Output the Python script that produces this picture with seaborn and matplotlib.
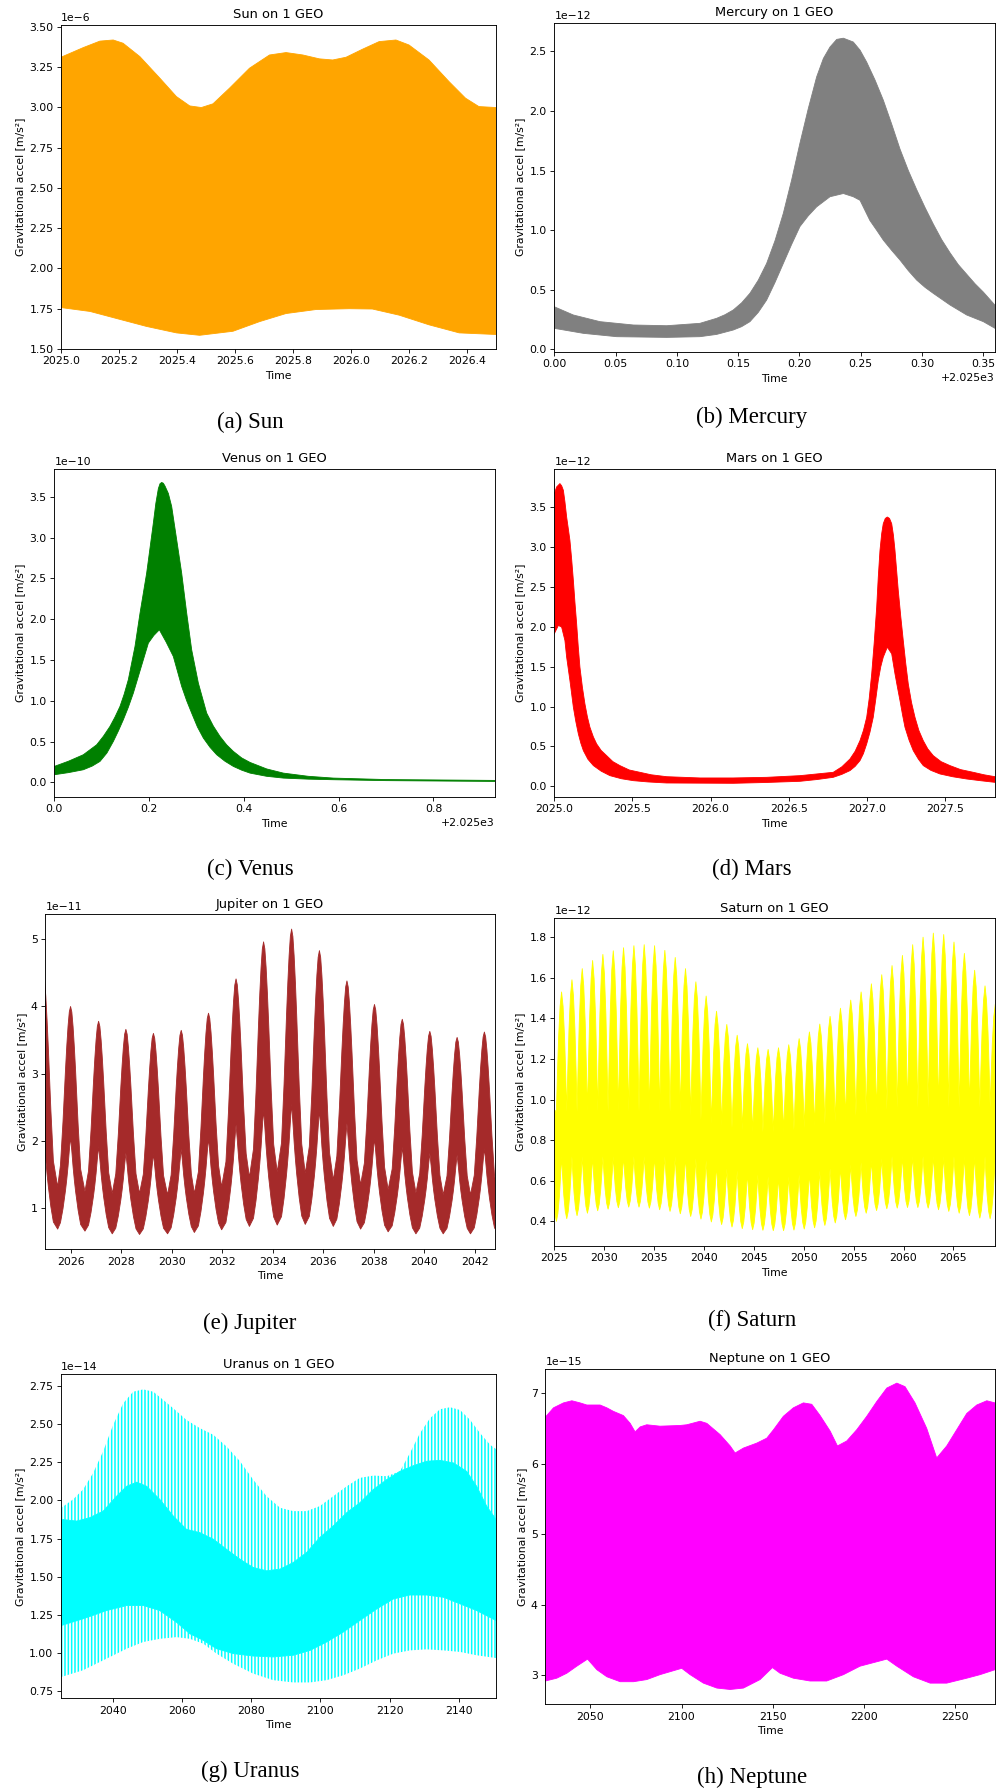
import numpy as np
import matplotlib
matplotlib.use("Agg")
import matplotlib.pyplot as plt
import seaborn as sns

# ---------------------------------------------------------------------------
# Gravitational acceleration of each body on a GEO satellite.
# Each series is the envelope (upper / lower edge) of the daily oscillation,
# values in units of the panel's axis multiplier.
# ---------------------------------------------------------------------------
bodies = ["Sun", "Mercury", "Venus", "Mars", "Jupiter", "Saturn", "Uranus", "Neptune"]
captions = ["(a) Sun", "(b) Mercury", "(c) Venus", "(d) Mars",
            "(e) Jupiter", "(f) Saturn", "(g) Uranus", "(h) Neptune"]
colors = ["orange", "gray", "green", "red", "brown", "yellow", "cyan", "magenta"]
scales = [1e-6, 1e-12, 1e-10, 1e-12, 1e-11, 1e-12, 1e-14, 1e-15]

# Sun
sun_upper_years = [2025.0, 2025.077, 2025.134, 2025.18, 2025.214, 2025.272, 2025.341, 2025.398,
                   2025.444, 2025.484, 2025.524, 2025.581, 2025.65, 2025.719, 2025.776, 2025.834,
                   2025.891, 2025.937, 2025.983, 2026.04, 2026.097, 2026.155, 2026.2, 2026.269,
                   2026.338, 2026.395, 2026.441, 2026.5]
sun_upper = [3.31, 3.37, 3.41, 3.417, 3.397, 3.314, 3.18, 3.066, 3.008, 2.998, 3.021, 3.118,
             3.242, 3.324, 3.339, 3.324, 3.30, 3.293, 3.31, 3.36, 3.407, 3.417, 3.386, 3.293,
             3.159, 3.056, 3.004, 2.998]
sun_lower_years = [2025.0, 2025.1, 2025.19, 2025.295, 2025.398, 2025.478, 2025.593, 2025.685,
                   2025.776, 2025.88, 2025.994, 2026.074, 2026.166, 2026.269, 2026.373, 2026.5]
sun_lower = [1.757, 1.733, 1.69, 1.64, 1.60, 1.585, 1.61, 1.67, 1.72, 1.745, 1.75, 1.748,
             1.71, 1.65, 1.60, 1.59]

# Mercury
mercury_upper_years = [2025.0, 2025.0155, 2025.0373, 2025.0645, 2025.0917, 2025.1188, 2025.1324,
                       2025.1392, 2025.146, 2025.1528, 2025.1596, 2025.1664, 2025.1732, 2025.18,
                       2025.1868, 2025.1936, 2025.2004, 2025.2072, 2025.214, 2025.2195, 2025.2249,
                       2025.2304, 2025.2358, 2025.2439, 2025.2494, 2025.2548, 2025.2616, 2025.2684,
                       2025.2752, 2025.282, 2025.2888, 2025.2956, 2025.3024, 2025.3092, 2025.316,
                       2025.3228, 2025.3296, 2025.3364, 2025.3432, 2025.35, 2025.3595]
mercury_upper = [0.357, 0.288, 0.232, 0.204, 0.198, 0.218, 0.26, 0.29, 0.33, 0.39, 0.47, 0.58,
                 0.72, 0.91, 1.14, 1.42, 1.73, 2.02, 2.285, 2.44, 2.536, 2.60, 2.61, 2.578, 2.51,
                 2.41, 2.26, 2.09, 1.89, 1.68, 1.50, 1.34, 1.19, 1.05, 0.92, 0.81, 0.71, 0.63,
                 0.55, 0.48, 0.37]
mercury_lower_years = [2025.0, 2025.0237, 2025.0509, 2025.0917, 2025.1188, 2025.1324, 2025.146,
                       2025.1528, 2025.1596, 2025.1664, 2025.1732, 2025.18, 2025.1868, 2025.1936,
                       2025.2004, 2025.2072, 2025.214, 2025.2249, 2025.2358, 2025.2439, 2025.2494,
                       2025.2575, 2025.2629, 2025.2684, 2025.2752, 2025.282, 2025.2888, 2025.2956,
                       2025.3024, 2025.3092, 2025.3228, 2025.3364, 2025.35, 2025.3595]
mercury_lower = [0.176, 0.134, 0.106, 0.10, 0.106, 0.125, 0.162, 0.19, 0.232, 0.31, 0.413, 0.56,
                 0.72, 0.88, 1.03, 1.12, 1.195, 1.28, 1.307, 1.28, 1.25, 1.08, 1.0, 0.916, 0.83,
                 0.749, 0.66, 0.581, 0.52, 0.469, 0.372, 0.288, 0.232, 0.176]

# Venus
venus_upper_years = [2025.0, 2025.03, 2025.0612, 2025.0894, 2025.1035, 2025.1175, 2025.128,
                     2025.1386, 2025.1474, 2025.1562, 2025.1703, 2025.1809, 2025.1949, 2025.209,
                     2025.2143, 2025.2196, 2025.2231, 2025.2266, 2025.2302, 2025.2337, 2025.2407,
                     2025.2477, 2025.2583, 2025.2688, 2025.2794, 2025.2899, 2025.304, 2025.3216,
                     2025.3357, 2025.3498, 2025.3638, 2025.3779, 2025.3955, 2025.4131, 2025.4483,
                     2025.4835, 2025.536, 2025.589, 2025.7, 2025.9303]
venus_upper = [0.196, 0.26, 0.339, 0.461, 0.565, 0.686, 0.80, 0.931, 1.08, 1.258, 1.666, 2.074,
               2.564, 3.177, 3.42, 3.60, 3.66, 3.675, 3.665, 3.63, 3.54, 3.381, 2.972, 2.564,
               2.074, 1.625, 1.217, 0.849, 0.69, 0.563, 0.46, 0.38, 0.30, 0.245, 0.165, 0.114,
               0.075, 0.053, 0.035, 0.0245]
venus_lower_years = [2025.0, 2025.03, 2025.0612, 2025.08, 2025.0964, 2025.111, 2025.1246,
                     2025.1352, 2025.1457, 2025.1562, 2025.1668, 2025.1826, 2025.1985, 2025.21,
                     2025.2217, 2025.236, 2025.2512, 2025.26, 2025.2688, 2025.2794, 2025.2899,
                     2025.302, 2025.3146, 2025.3286, 2025.3427, 2025.36, 2025.3779, 2025.3955,
                     2025.4131, 2025.448, 2025.4835, 2025.536, 2025.589, 2025.7, 2025.9303]
venus_lower = [0.094, 0.12, 0.155, 0.20, 0.257, 0.36, 0.502, 0.63, 0.768, 0.92, 1.094, 1.40,
               1.707, 1.80, 1.87, 1.72, 1.543, 1.36, 1.176, 1.0, 0.849, 0.68, 0.543, 0.43,
               0.339, 0.26, 0.196, 0.15, 0.114, 0.075, 0.053, 0.04, 0.033, 0.022, 0.012]

# Mars
mars_upper_years = [2025.0, 2025.015, 2025.036, 2025.047, 2025.058, 2025.068, 2025.079, 2025.089,
                    2025.1, 2025.111, 2025.122, 2025.132, 2025.143, 2025.153, 2025.164, 2025.18,
                    2025.196, 2025.212, 2025.228, 2025.25, 2025.271, 2025.3, 2025.335, 2025.375,
                    2025.42, 2025.48, 2025.548, 2025.62, 2025.719, 2025.932, 2026.145, 2026.359,
                    2026.572, 2026.785, 2026.84, 2026.892, 2026.925, 2026.956, 2026.978, 2026.999,
                    2027.015, 2027.031, 2027.047, 2027.063, 2027.073, 2027.084, 2027.095, 2027.105,
                    2027.118, 2027.131, 2027.145, 2027.159, 2027.17, 2027.18, 2027.19, 2027.201,
                    2027.217, 2027.233, 2027.249, 2027.265, 2027.286, 2027.308, 2027.333, 2027.361,
                    2027.39, 2027.425, 2027.475, 2027.532, 2027.6, 2027.681, 2027.75, 2027.82]
mars_upper = [3.671, 3.755, 3.797, 3.77, 3.713, 3.57, 3.378, 3.24, 3.085, 2.85, 2.583, 2.31,
              2.039, 1.76, 1.494, 1.24, 1.034, 0.87, 0.741, 0.62, 0.532, 0.45, 0.385, 0.31,
              0.26, 0.205, 0.176, 0.145, 0.121, 0.105, 0.105, 0.113, 0.134, 0.176, 0.245, 0.343,
              0.44, 0.573, 0.70, 0.866, 1.10, 1.411, 1.80, 2.248, 2.62, 2.959, 3.17, 3.294, 3.36,
              3.378, 3.36, 3.294, 3.15, 2.959, 2.72, 2.457, 2.13, 1.829, 1.54, 1.285, 1.05, 0.866,
              0.70, 0.573, 0.47, 0.385, 0.31, 0.26, 0.21, 0.176, 0.145, 0.121]
mars_lower_years = [2025.0, 2025.026, 2025.047, 2025.068, 2025.079, 2025.1, 2025.111, 2025.122,
                    2025.138, 2025.154, 2025.17, 2025.186, 2025.215, 2025.25, 2025.3, 2025.356,
                    2025.43, 2025.506, 2025.6, 2025.719, 2026.145, 2026.35, 2026.572, 2026.68,
                    2026.785, 2026.84, 2026.892, 2026.925, 2026.956, 2026.978, 2026.999, 2027.02,
                    2027.041, 2027.057, 2027.073, 2027.089, 2027.105, 2027.131, 2027.159, 2027.18,
                    2027.196, 2027.212, 2027.228, 2027.244, 2027.27, 2027.297, 2027.33, 2027.361,
                    2027.41, 2027.468, 2027.55, 2027.639, 2027.73, 2027.82]
mars_lower = [1.913, 2.018, 1.997, 1.829, 1.62, 1.327, 1.16, 0.992, 0.81, 0.657, 0.54, 0.448,
              0.34, 0.26, 0.19, 0.134, 0.095, 0.071, 0.055, 0.042, 0.038, 0.048, 0.063, 0.085,
              0.113, 0.15, 0.197, 0.25, 0.322, 0.41, 0.532, 0.68, 0.866, 1.09, 1.327, 1.50, 1.62,
              1.745, 1.662, 1.411, 1.24, 1.076, 0.90, 0.741, 0.58, 0.448, 0.34, 0.26, 0.20,
              0.155, 0.12, 0.092, 0.07, 0.05]

# Jupiter: opposition peaks and the minima between them
jupiter_peak_years = [2024.92, 2026.00, 2027.11, 2028.19, 2029.28, 2030.38, 2031.46, 2032.55,
                      2033.64, 2034.75, 2035.85, 2036.94, 2038.03, 2039.13, 2040.22, 2041.30, 2042.38]
jupiter_peak_upper = [4.5, 4.0, 3.78, 3.66, 3.60, 3.645, 3.9, 4.41, 4.96, 5.15, 4.83, 4.38, 4.03,
                      3.81, 3.63, 3.54, 3.62]
jupiter_peak_lower = [2.2, 2.06, 1.92, 1.82, 1.81, 1.88, 2.04, 2.24, 2.46, 2.55, 2.46, 2.26, 2.04,
                      1.91, 1.82, 1.79, 1.89]
jupiter_trough_years = [2025.49, 2026.57, 2027.65, 2028.73, 2029.84, 2030.90, 2031.98, 2033.08,
                        2034.18, 2035.29, 2036.40, 2037.48, 2038.57, 2039.67, 2040.75, 2041.83, 2042.93]
jupiter_trough_upper = [1.32, 1.25, 1.22, 1.22, 1.2, 1.22, 1.32, 1.46, 1.54, 1.52, 1.42, 1.35,
                        1.28, 1.23, 1.2, 1.2, 1.2]
jupiter_trough_lower = [0.69, 0.66, 0.62, 0.61, 0.62, 0.64, 0.68, 0.73, 0.75, 0.76, 0.73, 0.69,
                        0.65, 0.62, 0.62, 0.62, 0.62]
# flank of each peak: years from the peak, share of the peak height above the minimum
jupiter_flank_offsets = [0.05, 0.10, 0.15, 0.20, 0.30, 0.40]
jupiter_upper_shares = [0.97, 0.89, 0.78, 0.65, 0.36, 0.12]
jupiter_lower_shares = [0.85, 0.68, 0.54, 0.42, 0.22, 0.07]

# Saturn: yearly spikes up and down around a dense central band
saturn_peak_years = [2025.73, 2026.77, 2027.80, 2028.84, 2029.87, 2030.91, 2031.94, 2032.98,
                     2034.01, 2035.05, 2036.08, 2037.12, 2038.15, 2039.19, 2040.22, 2041.26,
                     2042.29, 2043.33, 2044.36, 2045.40, 2046.43, 2047.47, 2048.50, 2049.54,
                     2050.57, 2051.61, 2052.64, 2053.68, 2054.71, 2055.75, 2056.78, 2057.82,
                     2058.85, 2059.89, 2060.92, 2061.96, 2062.99, 2064.03, 2065.06, 2066.10,
                     2067.13, 2068.17, 2069.20]
saturn_peaks = [1.53, 1.59, 1.645, 1.685, 1.715, 1.733, 1.748, 1.758, 1.763, 1.758, 1.735, 1.70,
                1.645, 1.58, 1.51, 1.435, 1.37, 1.317, 1.275, 1.255, 1.247, 1.255, 1.27, 1.30,
                1.333, 1.372, 1.41, 1.45, 1.49, 1.53, 1.57, 1.615, 1.66, 1.71, 1.763, 1.80, 1.82,
                1.813, 1.776, 1.72, 1.637, 1.56, 1.47]
# lower edge of the central band at the spike times
saturn_band_floor = [0.72, 0.72, 0.72, 0.72, 0.72, 0.72, 0.72, 0.72, 0.72, 0.72, 0.72, 0.72,
                     0.72, 0.71, 0.70, 0.68, 0.66, 0.65, 0.64, 0.63, 0.62, 0.62, 0.62, 0.63,
                     0.64, 0.65, 0.66, 0.67, 0.68, 0.69, 0.70, 0.71, 0.72, 0.72, 0.72, 0.72,
                     0.72, 0.72, 0.72, 0.72, 0.72, 0.72, 0.72]
saturn_trough_years = [2025.21, 2026.25, 2027.28, 2028.32, 2029.35, 2030.39, 2031.42, 2032.46,
                       2033.49, 2034.53, 2035.56, 2036.60, 2037.63, 2038.67, 2039.70, 2040.74,
                       2041.77, 2042.81, 2043.84, 2044.88, 2045.91, 2046.95, 2047.98, 2049.02,
                       2050.05, 2051.09, 2052.12, 2053.16, 2054.19, 2055.23, 2056.26, 2057.30,
                       2058.33, 2059.37, 2060.40, 2061.44, 2062.47, 2063.51, 2064.54, 2065.58,
                       2066.61, 2067.65, 2068.68]
saturn_troughs = [0.40, 0.413, 0.428, 0.44, 0.452, 0.46, 0.467, 0.47, 0.47, 0.465, 0.457, 0.449,
                  0.437, 0.424, 0.411, 0.397, 0.384, 0.372, 0.364, 0.359, 0.356, 0.354, 0.354,
                  0.357, 0.362, 0.368, 0.38, 0.392, 0.408, 0.424, 0.44, 0.453, 0.462, 0.465,
                  0.468, 0.468, 0.465, 0.457, 0.449, 0.44, 0.428, 0.416, 0.413]
# upper edge of the central band at the trough times
saturn_band_ceiling = [0.94, 0.94, 0.94, 0.94, 0.94, 0.94, 0.94, 0.94, 0.94, 0.94, 0.94, 0.94,
                       0.94, 0.92, 0.90, 0.88, 0.87, 0.86, 0.85, 0.84, 0.84, 0.84, 0.84, 0.85,
                       0.86, 0.87, 0.88, 0.89, 0.90, 0.92, 0.93, 0.94, 0.95, 0.96, 0.96, 0.96,
                       0.96, 0.96, 0.96, 0.96, 0.96, 0.96, 0.96]
saturn_start = (2025.0, 0.95)
saturn_floor_start = (2024.69, 0.72)
saturn_flank_offsets = [0.15, 0.30, 0.42]
saturn_flank_shares = [0.88, 0.62, 0.30]

# Uranus: solid core band plus outer fringes of individual daily swings
uranus_outer_upper_years = [2025.0, 2028.4, 2031.3, 2034.2, 2037.1, 2040.0, 2042.9, 2045.8, 2048.7,
                            2051.6, 2054.5, 2057.4, 2061.2, 2065.1, 2069.0, 2072.8, 2076.7, 2080.5,
                            2084.4, 2088.3, 2092.1, 2096.0, 2099.8, 2103.7, 2107.6, 2111.4, 2115.3,
                            2119.2, 2123.0, 2125.9, 2128.8, 2131.7, 2134.6, 2137.5, 2140.4, 2143.3,
                            2146.2, 2149.1, 2150.8]
uranus_outer_upper = [1.952, 2.007, 2.072, 2.18, 2.322, 2.496, 2.637, 2.713, 2.728, 2.713, 2.659,
                      2.604, 2.528, 2.474, 2.43, 2.354, 2.257, 2.137, 2.028, 1.952, 1.93, 1.93,
                      1.963, 2.028, 2.093, 2.148, 2.163, 2.159, 2.191, 2.311, 2.441, 2.539, 2.598,
                      2.611, 2.593, 2.528, 2.441, 2.365, 2.337]
uranus_inner_upper_years = [2025.0, 2029.4, 2033.2, 2037.1, 2041.0, 2043.9, 2046.8, 2049.7, 2053.5,
                            2057.4, 2061.2, 2065.1, 2069.0, 2072.8, 2076.7, 2080.5, 2084.4, 2088.3,
                            2092.1, 2096.0, 2099.8, 2103.7, 2107.6, 2111.4, 2115.3, 2119.2, 2123.0,
                            2126.9, 2130.7, 2134.6, 2138.5, 2142.3, 2145.2, 2148.1, 2150.8]
uranus_inner_upper = [1.876, 1.865, 1.887, 1.93, 2.028, 2.093, 2.12, 2.093, 2.007, 1.898, 1.811,
                      1.789, 1.746, 1.68, 1.615, 1.561, 1.539, 1.55, 1.593, 1.659, 1.757, 1.833,
                      1.92, 1.985, 2.072, 2.137, 2.191, 2.228, 2.257, 2.263, 2.246, 2.191, 2.093,
                      1.963, 1.876]
uranus_lower_years = [2025.0, 2031.3, 2038.1, 2043.9, 2048.7, 2053.5, 2058.3, 2062.2, 2066.1,
                      2069.9, 2074.7, 2080.5, 2086.3, 2092.1, 2097.0, 2101.8, 2106.6, 2111.4,
                      2116.3, 2121.1, 2125.9, 2130.7, 2135.6, 2140.4, 2145.2, 2150.8]
uranus_inner_lower = [1.18, 1.224, 1.278, 1.311, 1.311, 1.278, 1.202, 1.126, 1.083, 1.028, 0.996,
                      0.98, 0.974, 0.985, 1.017, 1.072, 1.137, 1.213, 1.289, 1.354, 1.38, 1.38,
                      1.365, 1.322, 1.278, 1.213]
uranus_outer_lower = [0.843, 0.887, 0.963, 1.028, 1.072, 1.093, 1.104, 1.093, 1.061, 0.996, 0.93,
                      0.865, 0.822, 0.807, 0.807, 0.822, 0.854, 0.898, 0.952, 0.996, 1.017, 1.024,
                      1.017, 1.007, 0.985, 0.967]

# Neptune
neptune_upper_years = [2025.3, 2029.7, 2035.2, 2039.8, 2044.3, 2048.0, 2055.3, 2059.0, 2062.6,
                       2068.1, 2071.8, 2074.5, 2077.3, 2080.9, 2088.2, 2099.2, 2102.9, 2110.2,
                       2113.9, 2121.2, 2126.7, 2129.4, 2134.0, 2141.3, 2146.8, 2150.5, 2155.9,
                       2161.4, 2166.9, 2171.5, 2176.1, 2181.6, 2185.6, 2190.7, 2196.2, 2201.7,
                       2207.2, 2212.7, 2218.2, 2222.7, 2228.2, 2234.6, 2240.1, 2245.6, 2251.1,
                       2256.6, 2262.1, 2267.6, 2272.1]
neptune_upper = [6.66, 6.79, 6.86, 6.89, 6.86, 6.83, 6.83, 6.79, 6.74, 6.68, 6.57, 6.45, 6.52,
                 6.55, 6.53, 6.54, 6.55, 6.60, 6.57, 6.41, 6.25, 6.15, 6.22, 6.29, 6.36, 6.48,
                 6.67, 6.79, 6.86, 6.84, 6.68, 6.46, 6.25, 6.32, 6.48, 6.67, 6.88, 7.07, 7.14,
                 7.09, 6.86, 6.5, 6.08, 6.25, 6.48, 6.71, 6.83, 6.89, 6.86]
neptune_lower_years = [2025.3, 2031.5, 2037.0, 2042.5, 2048.4, 2053.5, 2059.0, 2066.3, 2073.6,
                       2080.9, 2088.2, 2100.1, 2104.7, 2112.0, 2119.4, 2126.7, 2134.0, 2143.1,
                       2149.9, 2154.1, 2161.4, 2170.6, 2179.7, 2188.9, 2198.0, 2212.7, 2218.2,
                       2227.3, 2236.5, 2245.6, 2256.6, 2263.9, 2272.1]
neptune_lower = [2.92, 2.96, 3.03, 3.13, 3.23, 3.08, 2.98, 2.91, 2.91, 2.94, 3.01, 3.10, 3.01,
                 2.89, 2.82, 2.80, 2.82, 2.94, 3.11, 3.03, 2.96, 2.92, 2.92, 3.01, 3.13, 3.23,
                 3.13, 2.98, 2.89, 2.89, 2.96, 3.01, 3.08]

# axis ranges (time, value in multiplier units)
xlims = [(2025.0, 2026.5), (2025.0, 2025.3595), (2025.0, 2025.93), (2025.0, 2027.82),
         (2025.0, 2042.8), (2025.0, 2069.17), (2024.9, 2150.8), (2025.2, 2272.1)]
ylims = [(1.5, 3.51), (-0.02, 2.74), (-0.175, 3.84), (-0.13, 3.98),
         (0.39, 5.37), (0.28, 1.893), (0.703, 2.827), (2.59, 7.34)]

# ---------------------------------------------------------------------------
sns.set_style("ticks")
plt.rcParams.update({
    "font.family": ["DejaVu Sans"],
    "font.size": 7.8,
    "axes.edgecolor": "black",
    "axes.linewidth": 0.65,
    "axes.labelcolor": "black",
    "text.color": "black",
    "xtick.color": "black",
    "ytick.color": "black",
    "xtick.labelsize": 7.8,
    "ytick.labelsize": 7.8,
    "xtick.major.size": 2.7,
    "ytick.major.size": 2.7,
    "xtick.major.width": 0.62,
    "ytick.major.width": 0.62,
    "xtick.major.pad": 2.7,
    "ytick.major.pad": 2.7,
    "axes.labelsize": 7.8,
    "axes.titlesize": 9.4,
    "axes.titlepad": 4.7,
    "axes.labelpad": 3.1,
    "hatch.linewidth": 1.1,
    "hatch.color": "cyan",
})

fig = plt.figure(figsize=(9.97, 17.89), dpi=100)
W, H = 997.0, 1789.0
# axes boxes in pixels: left, right, top, bottom
boxes = [(61, 496, 25, 349), (554.3, 995, 22.7, 351.7),
         (54.3, 495, 469, 796.7), (554.3, 995, 469, 796.7),
         (45.3, 495, 914.3, 1249.3), (554.3, 995, 918.3, 1245.7),
         (61, 496, 1374.3, 1698.3), (545.3, 995, 1369, 1704.3)]
caption_xy = [(250, 422), (752, 417), (250, 869), (752, 869),
              (250, 1323), (752, 1320), (250, 1771), (752, 1777)]

axes = []
for (l, r, t, b) in boxes:
    axes.append(fig.add_axes([l / W, 1 - b / H, (r - l) / W, (b - t) / H]))


def draw_band(ax, tu, vu, tl, vl, scale, color):
    """Fill the area between an upper and a lower edge and stroke both edges."""
    tu, vu, tl, vl = map(np.asarray, (tu, vu, tl, vl))
    xs = np.concatenate([tu, tl[::-1]])
    ys = np.concatenate([vu, vl[::-1]]) * scale
    ax.fill(xs, ys, color=color, lw=0)
    sns.lineplot(x=tu, y=vu * scale, ax=ax, color=color, lw=0.6, estimator=None, sort=False)
    sns.lineplot(x=tl, y=vl * scale, ax=ax, color=color, lw=0.6, estimator=None, sort=False)


def flank_series(t, v, is_center, offsets, shares):
    """Walk an alternating list of extremes, adding the flank points around each spike."""
    out_t, out_v = [t[0]], [v[0]]
    for a in range(len(t) - 1):
        b = a + 1
        if is_center[a]:
            for d, f in zip(offsets, shares):
                out_t.append(t[a] + d)
                out_v.append(v[b] + f * (v[a] - v[b]))
        if is_center[b]:
            for d, f in reversed(list(zip(offsets, shares))):
                out_t.append(t[b] - d)
                out_v.append(v[a] + f * (v[b] - v[a]))
        out_t.append(t[b])
        out_v.append(v[b])
    return np.array(out_t), np.array(out_v)


def interleave(a, b):
    out = []
    for x, y in zip(a, b):
        out += [x, y]
    return out


# Sun, Mercury, Venus, Mars, Neptune: filled envelopes
simple = {0: (sun_upper_years, sun_upper, sun_lower_years, sun_lower),
          1: (mercury_upper_years, mercury_upper, mercury_lower_years, mercury_lower),
          2: (venus_upper_years, venus_upper, venus_lower_years, venus_lower),
          3: (mars_upper_years, mars_upper, mars_lower_years, mars_lower),
          7: (neptune_upper_years, neptune_upper, neptune_lower_years, neptune_lower)}
for i, (tu, vu, tl, vl) in simple.items():
    draw_band(axes[i], tu, vu, tl, vl, scales[i], colors[i])

# Jupiter
jt_knots = interleave(jupiter_peak_years, jupiter_trough_years)
j_centers = interleave([True] * len(jupiter_peak_years), [False] * len(jupiter_trough_years))
jt, ju = flank_series(jt_knots, interleave(jupiter_peak_upper, jupiter_trough_upper),
                      j_centers, jupiter_flank_offsets, jupiter_upper_shares)
_, jl = flank_series(jt_knots, interleave(jupiter_peak_lower, jupiter_trough_lower),
                     j_centers, jupiter_flank_offsets, jupiter_lower_shares)
draw_band(axes[4], jt, ju, jt, jl, scales[4], colors[4])

# Saturn
n_sat = len(saturn_peak_years)
st_u, sv_u = flank_series(
    [saturn_start[0]] + interleave(saturn_trough_years, saturn_peak_years),
    [saturn_start[1]] + interleave(saturn_band_ceiling, saturn_peaks),
    [False] + interleave([False] * n_sat, [True] * n_sat),
    saturn_flank_offsets, saturn_flank_shares)
st_l, sv_l = flank_series(
    [saturn_floor_start[0]] + interleave(saturn_trough_years, saturn_peak_years),
    [saturn_floor_start[1]] + interleave(saturn_troughs, saturn_band_floor),
    [False] + interleave([True] * n_sat, [False] * n_sat),
    saturn_flank_offsets, saturn_flank_shares)
draw_band(axes[5], st_u, sv_u, st_l, sv_l, scales[5], colors[5])

# Uranus
ax = axes[6]
s6 = scales[6]
draw_band(ax, uranus_inner_upper_years, uranus_inner_upper, uranus_lower_years,
          uranus_inner_lower, s6, colors[6])
ax.fill(np.concatenate([uranus_outer_upper_years, uranus_inner_upper_years[::-1]]),
        np.concatenate([uranus_outer_upper, uranus_inner_upper[::-1]]) * s6,
        facecolor="none", edgecolor=colors[6], hatch="|||||", lw=0)
ax.fill(np.concatenate([uranus_lower_years, uranus_lower_years[::-1]]),
        np.concatenate([uranus_inner_lower, uranus_outer_lower[::-1]]) * s6,
        facecolor="none", edgecolor=colors[6], hatch="|||||", lw=0)

# common decoration
for i, ax in enumerate(axes):
    ax.set_xlim(*xlims[i])
    ax.set_ylim(ylims[i][0] * scales[i], ylims[i][1] * scales[i])
    ax.set_title(f"{bodies[i]} on 1 GEO")
    ax.set_xlabel("Time")
    ax.set_ylabel("Gravitational accel [m/s²]")
    ax.yaxis.get_offset_text().set_fontsize(7.8)
    ax.xaxis.get_offset_text().set_fontsize(7.8)
    for side in ("top", "right", "left", "bottom"):
        ax.spines[side].set_visible(True)
    cx, cy = caption_xy[i]
    fig.text(cx / W, 1 - cy / H, captions[i], ha="center", va="center",
             family="Liberation Serif", fontsize=16.5)

fig.savefig("out.png", dpi=100)
